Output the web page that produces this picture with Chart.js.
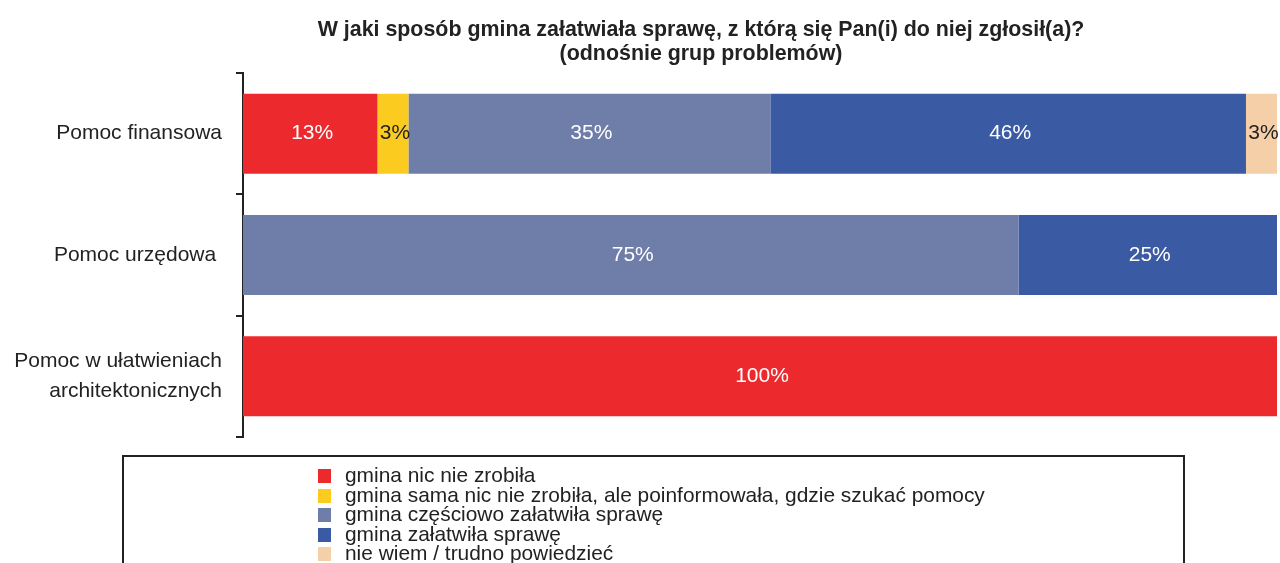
<!DOCTYPE html>
<html>
<head>
<meta charset="utf-8">
<script src="https://cdn.jsdelivr.net/npm/chart.js@4"></script>
<style>
  body { margin: 0; background: #fff; font-family: "Liberation Sans", Arial, sans-serif; }
  #wrap { position: relative; width: 1280px; height: 563px; overflow: hidden; }
  #title { position: absolute; left: 301px; width: 800px; top: 17px; text-align: center;
    font-weight: bold; font-size: 21.4px; line-height: 24px; color: #222; white-space: nowrap; }
  #legend { position: absolute; left: 122px; top: 455px; width: 1063px; height: 130px;
    border: 2px solid #222; box-sizing: border-box; }
  .item { position: absolute; left: 194px; font-size: 20.9px; line-height: 20px; color: #222; white-space: nowrap; }
  .item span { display: inline-block; width: 13px; height: 14px; margin-right: 14px; vertical-align: -1px; }
</style>
</head>
<body>
<div id="wrap">
  <div id="title">W jaki sposób gmina załatwiała sprawę, z którą się Pan(i) do niej zgłosił(a)?<br>(odnośnie grup problemów)</div>
  <canvas id="chart" width="1280" height="563"></canvas>
  <div id="legend"></div>
</div>
<script>
// === Dane ===
const kategorie = [["Pomoc finansowa"], ["Pomoc urzędowa "], ["Pomoc w ułatwieniach", "architektonicznych"]];
const serie = [
  "gmina nic nie zrobiła",
  "gmina sama nic nie zrobiła, ale poinformowała, gdzie szukać pomocy",
  "gmina częściowo załatwiła sprawę",
  "gmina załatwiła sprawę",
  "nie wiem / trudno powiedzieć"
];
const nicNieZrobila = [13, 0, 100];
const poinformowala = [3, 0, 0];
const czesciowo = [35, 75, 0];
const zalatwila = [46, 25, 0];
const nieWiem = [3, 0, 0];
const kolory = ["#ec2a2e", "#fccb1f", "#6f7da9", "#3a5aa3", "#f5cfa8"];
const koloryTekstu = ["#fff", "#222", "#fff", "#fff", "#222"];

const wartosci = [nicNieZrobila, poinformowala, czesciowo, zalatwila, nieWiem];

// etykiety procentowe w środku segmentów
const etykiety = {
  id: "etykiety",
  afterDatasetsDraw(chart) {
    const ctx = chart.ctx;
    ctx.save();
    ctx.font = "21px 'Liberation Sans', Arial, sans-serif";
    ctx.textAlign = "center";
    ctx.textBaseline = "middle";
    chart.data.datasets.forEach((ds, i) => {
      chart.getDatasetMeta(i).data.forEach((bar, j) => {
        const v = ds.data[j];
        if (!v) return;
        ctx.fillStyle = koloryTekstu[i];
        ctx.fillText(v + "%", (bar.x + bar.base) / 2 + 2, bar.y);
      });
    });
    ctx.restore();
  }
};

new Chart(document.getElementById("chart"), {
  type: "bar",
  data: {
    labels: kategorie,
    datasets: serie.map((s, i) => ({
      label: s,
      data: wartosci[i],
      backgroundColor: kolory[i],
      categoryPercentage: 1,
      barPercentage: 0.66,
    })),
  },
  options: {
    indexAxis: "y",
    responsive: false,
    animation: false,
    layout: { padding: { left: 0, right: 3, top: 73, bottom: 126 } },
    plugins: { legend: { display: false }, tooltip: { enabled: false } },
    scales: {
      x: { stacked: true, min: 0, max: 100, display: false },
      y: {
        stacked: true,
        afterFit: (s) => { s.width = 243; },
        border: { display: true, color: "#222", width: 2 },
        grid: { offset: true, drawOnChartArea: false, tickLength: 7, color: "#222", lineWidth: 2 },
        ticks: { color: "#222", padding: 14, font: { size: 21, lineHeight: 1.4, family: "'Liberation Sans', Arial, sans-serif" } },
      },
    },
  },
  plugins: [etykiety],
});

// legenda
const leg = document.getElementById("legend");
serie.forEach((s, i) => {
  const d = document.createElement("div");
  d.className = "item";
  d.style.top = (8 + i * 19.6) + "px";
  d.innerHTML = '<span style="background:' + kolory[i] + '"></span>' + s;
  leg.appendChild(d);
});
</script>
</body>
</html>
